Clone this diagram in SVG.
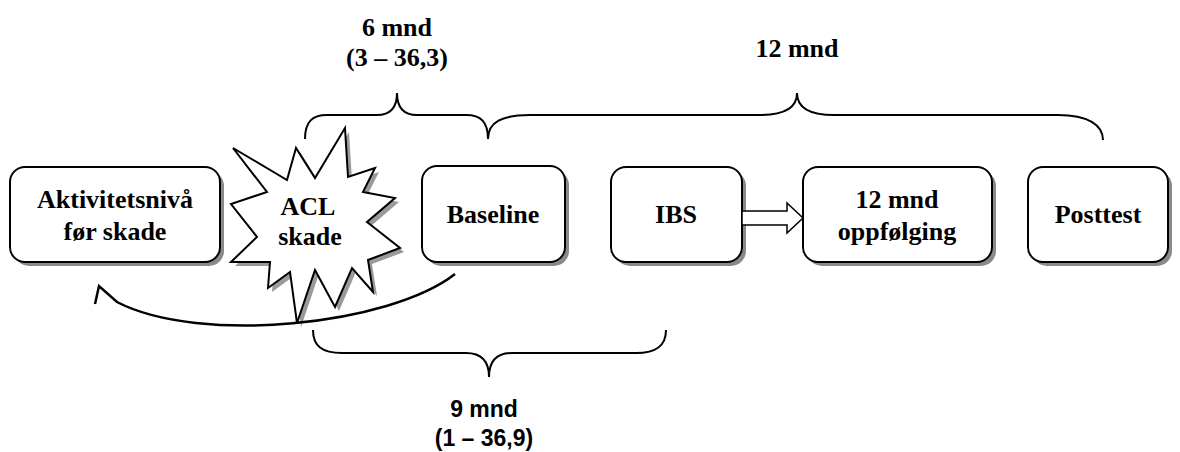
<svg xmlns="http://www.w3.org/2000/svg" width="1180" height="452" viewBox="0 0 1180 452">
<defs>
<polygon id="star" points="233,148 287,180 296,148 315,178 345,128 348,177 375,168 363,192 395,198 367,222 400,248 368,260 373,292 352,268 335,307 315,270 297,323 290,272 268,288 270,262 231,262 257,237 231,204 267,192"/>
</defs>
<rect width="1180" height="452" fill="#fff"/>
<g id="labels-top">
<text x="397" y="36" style="font:bold 26px 'Times New Roman','Liberation Serif',serif" text-anchor="middle">6 mnd</text>
<text x="397" y="66" style="font:bold 26px 'Times New Roman','Liberation Serif',serif" text-anchor="middle">(3 – 36,3)</text>
<text x="797" y="57" style="font:bold 26px 'Times New Roman','Liberation Serif',serif" text-anchor="middle">12 mnd</text>
</g>
<g id="braces" fill="none" stroke="#000" stroke-width="2">
<path d="M305,139 C305,122 312,115 327,115 L377,115 C390,115 397,108 397,93 C397,108 404,115 417,115 L466,115 C481,115 488,122 488,139"/>
<path d="M488,139 C488,122 502,115 530,115 L760,115 C785,115 797,108 797,93 C797,108 809,115 834,115 L1058,115 C1088,115 1103,125 1103,140"/>
<path d="M313,330 C313,346 322,353 342,353 L466,353 C482,353 489,362 489,377 C489,362 496,353 512,353 L636,353 C656,353 666,346 666,330"/>
</g>
<g id="node-aktivitet">
<rect x="14" y="171" width="210" height="95" rx="15" fill="#8a8a8a"/>
<rect x="10" y="167" width="210" height="95" rx="15" fill="#fff" stroke="#000" stroke-width="2"/>
<text x="115" y="208" style="font:bold 26px 'Times New Roman','Liberation Serif',serif" text-anchor="middle">Aktivitetsnivå</text>
<text x="115" y="240" style="font:bold 26px 'Times New Roman','Liberation Serif',serif" text-anchor="middle">før skade</text>
</g>
<g id="node-acl">
<use href="#star" fill="#9a9a9a" transform="translate(4,4)"/>
<use href="#star" fill="#fff" stroke="#000" stroke-width="2"/>
<text x="308" y="215" style="font:bold 26px 'Times New Roman','Liberation Serif',serif" text-anchor="middle">ACL</text>
<text x="310" y="245" style="font:bold 26px 'Times New Roman','Liberation Serif',serif" text-anchor="middle">skade</text>
</g>
<g id="node-baseline">
<rect x="426" y="170" width="143" height="96" rx="15" fill="#8a8a8a"/>
<rect x="422" y="166" width="143" height="96" rx="15" fill="#fff" stroke="#000" stroke-width="2"/>
<text x="493" y="223" style="font:bold 26px 'Times New Roman','Liberation Serif',serif" text-anchor="middle">Baseline</text>
</g>
<g id="node-ibs">
<rect x="615" y="171" width="131" height="95" rx="15" fill="#8a8a8a"/>
<rect x="611" y="167" width="131" height="95" rx="15" fill="#fff" stroke="#000" stroke-width="2"/>
<text x="676" y="223" style="font:bold 26px 'Times New Roman','Liberation Serif',serif" text-anchor="middle">IBS</text>
</g>
<g id="node-12mnd">
<rect x="807" y="171" width="189" height="95" rx="15" fill="#8a8a8a"/>
<rect x="803" y="167" width="189" height="95" rx="15" fill="#fff" stroke="#000" stroke-width="2"/>
<text x="897" y="208" style="font:bold 26px 'Times New Roman','Liberation Serif',serif" text-anchor="middle">12 mnd</text>
<text x="897" y="240" style="font:bold 26px 'Times New Roman','Liberation Serif',serif" text-anchor="middle">oppfølging</text>
</g>
<g id="node-posttest">
<rect x="1032" y="171" width="140" height="95" rx="15" fill="#8a8a8a"/>
<rect x="1028" y="167" width="140" height="95" rx="15" fill="#fff" stroke="#000" stroke-width="2"/>
<text x="1098" y="223" style="font:bold 26px 'Times New Roman','Liberation Serif',serif" text-anchor="middle">Posttest</text>
</g>
<g id="connectors">
<polygon fill="#fff" stroke="#000" stroke-width="1.5" points="742,211 787,211 787,203 803,218 787,233 787,225 742,225"/>
<path fill="none" stroke="#000" stroke-width="2.5" d="M455,274 C390,325 200,345 117,302 L99,286 L95,304"/>
</g>
<g id="label-bottom">
<text x="484" y="417" style="font:bold 23px 'Liberation Sans',Arial,sans-serif" text-anchor="middle">9 mnd</text>
<text x="484" y="446" style="font:bold 23px 'Liberation Sans',Arial,sans-serif" text-anchor="middle">(1 – 36,9)</text>
</g>
</svg>
